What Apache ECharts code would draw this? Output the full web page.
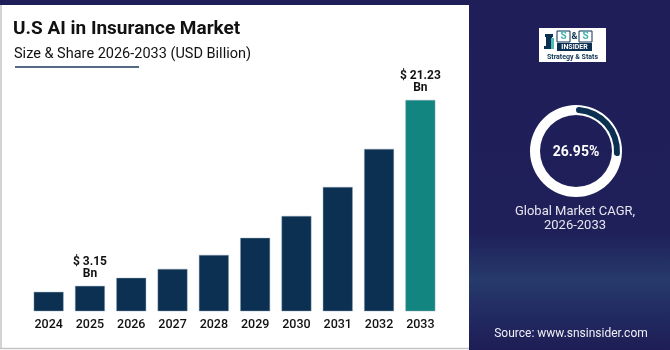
<!DOCTYPE html>
<html>
<head>
<meta charset="utf-8">
<script src="https://cdn.jsdelivr.net/npm/echarts@6/dist/echarts.min.js"></script>
<style>
  html, body { margin: 0; padding: 0; background: #1f1e58; }
  #chart { width: 670px; height: 350px; }
</style>
</head>
<body>
<div id="chart"></div>
<script>
// data
const years = ['2024', '2025', '2026', '2027', '2028', '2029', '2030', '2031', '2032', '2033'];
const marketSize = [2.57, 3.15, 3.93, 4.80, 6.16, 7.82, 9.95, 12.77, 16.47, 21.23];
const labelledYears = ['2025', '2033'];
const cagr = 26.95;

const navy = '#0c3051';
const teal = '#138581';
const bg = '#1f1e58';
const font = 'Roboto';

const chart = echarts.init(document.getElementById('chart'), null, { renderer: 'canvas' });

const barData = marketSize.map((v, i) => {
  const last = i === marketSize.length - 1;
  const item = {
    value: v,
    itemStyle: { color: last ? teal : navy }
  };
  if (labelledYears.includes(years[i])) {
    item.label = {
      show: true,
      position: 'top',
      distance: 6,
      formatter: '$ ' + v.toFixed(2) + '\nBn',
      fontFamily: font,
      fontWeight: 'bold',
      fontSize: 12,
      lineHeight: 12,
      color: '#111'
    };
  }
  return item;
});

const option = {
  backgroundColor: bg,
  animation: false,
  graphic: [
    // right panel gradient
    {
      type: 'rect', z: -10,
      shape: { x: 469, y: 0, width: 201, height: 350 },
      style: {
        fill: new echarts.graphic.LinearGradient(0, 0, 0, 1, [
          { offset: 0, color: '#1f1e58' },
          { offset: 0.66, color: '#1f1f59' },
          { offset: 0.8, color: '#263a6b' },
          { offset: 0.9, color: '#222a62' },
          { offset: 1, color: '#1e1d55' }
        ])
      }
    },
    // white panel
    {
      type: 'rect', z: -5,
      shape: { x: 0, y: 5, width: 469, height: 345 },
      style: { fill: '#fff' }
    },
    { type: 'line', z: -4, shape: { x1: 1, y1: 5, x2: 1, y2: 349 }, style: { stroke: '#c4c4c4', lineWidth: 1.5 } },
    { type: 'line', z: -4, shape: { x1: 0, y1: 348.5, x2: 469, y2: 348.5 }, style: { stroke: '#c4c4c4', lineWidth: 1.5 } },
    // titles
    {
      type: 'text', left: 13, top: 20,
      style: { text: 'U.S AI in Insurance Market', font: 'bold 19px Roboto', fill: '#111' }
    },
    {
      type: 'text', left: 14, top: 47,
      style: { text: 'Size & Share 2026-2033 (USD Billion)', font: '14.5px Roboto', fill: '#111' }
    },
    { type: 'line', shape: { x1: 15, y1: 67, x2: 139, y2: 67 }, style: { stroke: '#1d3a5c', lineWidth: 1.5 } },

    // logo
    { type: 'rect', shape: { x: 539, y: 28, width: 67, height: 34 }, style: { fill: '#fff' } },
    { type: 'rect', shape: { x: 545, y: 34, width: 8, height: 3 }, style: { fill: navy } },
    { type: 'rect', shape: { x: 546, y: 37, width: 6, height: 12 }, style: { fill: navy } },
    { type: 'rect', shape: { x: 544, y: 46, width: 10, height: 3 }, style: { fill: navy } },
    { type: 'rect', shape: { x: 551, y: 38, width: 3, height: 11 }, style: { fill: '#4cbcb5' } },
    { type: 'rect', shape: { x: 557, y: 31, width: 13, height: 11 }, style: { fill: '#fff', stroke: navy, lineWidth: 1 } },
    { type: 'rect', shape: { x: 579, y: 31, width: 13, height: 11 }, style: { fill: '#fff', stroke: navy, lineWidth: 1 } },
    { type: 'text', x: 563.5, y: 36.5, style: { text: 'S', font: 'bold 10px Roboto', fill: '#3fb3ac', align: 'center', verticalAlign: 'middle' } },
    { type: 'text', x: 574.5, y: 36.5, style: { text: '&', font: 'bold 9px Roboto', fill: navy, align: 'center', verticalAlign: 'middle' } },
    { type: 'text', x: 585.5, y: 36.5, style: { text: 'S', font: 'bold 10px Roboto', fill: '#3fb3ac', align: 'center', verticalAlign: 'middle' } },
    { type: 'rect', shape: { x: 557, y: 43, width: 35, height: 8 }, style: { fill: navy } },
    { type: 'text', x: 574.5, y: 47, style: { text: 'INSIDER', font: 'bold 7px Roboto', fill: '#fff', align: 'center', verticalAlign: 'middle' } },
    { type: 'text', x: 572.5, y: 57, style: { text: 'Strategy & Stats', font: 'bold 7px Roboto', fill: navy, align: 'center', verticalAlign: 'middle' } },

    // donut text
    {
      type: 'text', x: 576, y: 152,
      style: { text: cagr.toFixed(2) + '%', font: 'bold 14px Roboto', fill: '#fff', align: 'center', verticalAlign: 'middle' }
    },
    {
      type: 'text', x: 575, y: 219,
      style: { text: 'Global Market CAGR,\n2026-2033', font: '13px Roboto', lineHeight: 14, fill: '#e6e6f0', align: 'center', verticalAlign: 'middle' }
    },
    {
      type: 'text', x: 571, y: 334,
      style: { text: 'Source: www.snsinsider.com', font: '12px Roboto', fill: '#f0f0f6', align: 'center', verticalAlign: 'middle' }
    }
  ],
  grid: { left: 28, width: 413, top: 92, bottom: 39 },
  xAxis: {
    type: 'category',
    data: years,
    axisLine: { show: false },
    axisTick: { show: false },
    axisLabel: { color: '#111', fontFamily: font, fontWeight: 500, fontSize: 12.5, margin: 7 }
  },
  yAxis: {
    type: 'value',
    min: 0.7,
    max: 22,
    show: false,
    splitLine: { show: false }
  },
  series: [
    {
      type: 'bar',
      barWidth: 30,
      data: barData,
      itemStyle: { borderColor: 'rgba(140,165,185,0.7)', borderWidth: 0.6 }
    },
    {
      type: 'pie',
      silent: true,
      center: [576, 151],
      radius: [36, 46],
      label: { show: false },
      data: [{ value: 1, itemStyle: { color: '#fff' } }]
    },
    {
      type: 'pie',
      silent: true,
      center: [576, 151],
      radius: [38, 44],
      startAngle: 90,
      clockwise: true,
      label: { show: false },
      itemStyle: { borderRadius: 3 },
      data: [
        { value: cagr, itemStyle: { color: navy } },
        { value: 100 - cagr, itemStyle: { color: 'rgba(0,0,0,0)' } }
      ]
    }
  ]
};

chart.setOption(option);
</script>
</body>
</html>
